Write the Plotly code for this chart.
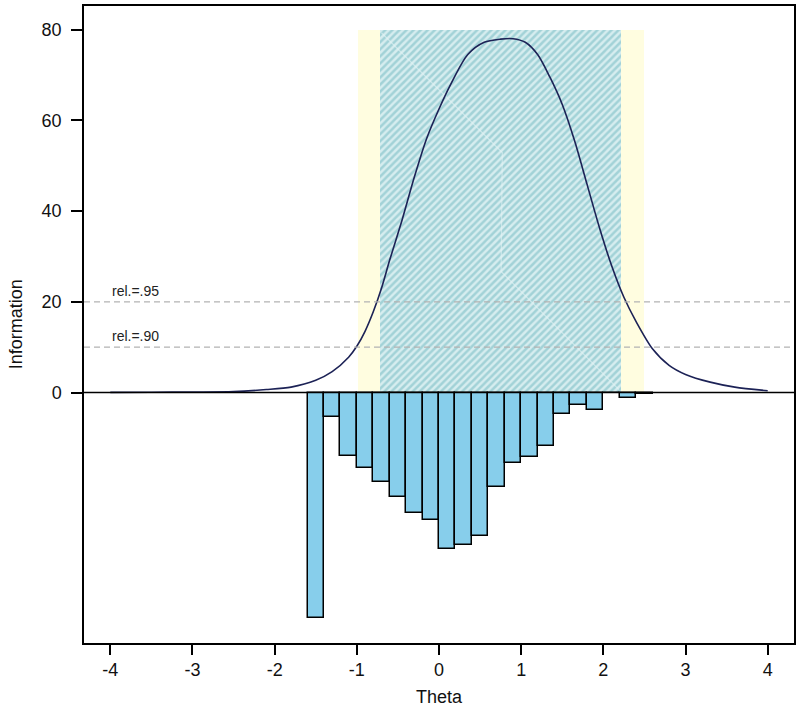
import plotly.graph_objects as go

# ---- data ----
theta = [-4.0, -3.5, -3.0, -2.5, -2.1, -1.8, -1.5, -1.3, -1.1, -1.0, -0.9, -0.8, -0.7, -0.6,
         -0.45, -0.3, -0.15, 0.0, 0.15, 0.35, 0.55, 0.75, 0.9, 1.05, 1.2, 1.35, 1.5, 1.65,
         1.8, 1.95, 2.1, 2.25, 2.4, 2.6, 2.8, 3.0, 3.3, 3.6, 4.0]
information = [0.03, 0.06, 0.12, 0.22, 0.66, 1.2, 2.7, 4.6, 7.8, 10.2, 13.5, 17.8, 23.0, 29.2,
               38.0, 47.5, 56.0, 62.5, 68.2, 74.5, 77.2, 77.9, 78.0, 77.2, 74.5, 69.5, 63.5, 55.5,
               46.0, 36.5, 28.0, 21.0, 15.6, 9.6, 6.0, 4.0, 2.3, 1.2, 0.4]

bin_left = [-1.6, -1.4, -1.2, -1.0, -0.8, -0.6, -0.4, -0.2, 0.0, 0.2, 0.4, 0.6, 0.8, 1.0,
            1.2, 1.4, 1.6, 1.8, 2.0, 2.2, 2.4]
bin_height = [-49.6, -5.4, -13.9, -16.7, -19.8, -23.1, -26.5, -28.0, -34.5, -33.6, -31.7, -20.9,
              -15.6, -14.1, -11.8, -4.7, -2.8, -3.9, 0.0, -1.2, -0.4]
bin_width = 0.2

band90 = [-0.99, 2.49]     # rel. >= .90 range
band95 = [-0.714, 2.218]   # rel. >= .95 range
band_top = 80

guide_x = [-0.70, 0.77, 0.756, 2.19]
guide_y = [79.3, 52.9, 26.7, 0.66]

rel_levels = [20, 10]
rel_labels = ["rel.=.95", "rel.=.90"]

xticks = [-4, -3, -2, -1, 0, 1, 2, 3, 4]
xtick_text = ["-4", "-3", "-2", "-1", "0", "1", "2", "3", "4"]
yticks = [0, 20, 40, 60, 80]
ytick_text = ["0", "20", "40", "60", "80"]

FONT = "Liberation Sans, Arial, sans-serif"

fig = go.Figure()

# yellow band (rel .90)
fig.add_trace(go.Bar(
    x=[(band90[0] + band90[1]) / 2], y=[band_top], base=0, width=[band90[1] - band90[0]],
    marker=dict(color="#fffde0", line=dict(width=0)), hoverinfo="skip", showlegend=False))

# hatched teal band (rel .95)
fig.add_trace(go.Bar(
    x=[(band95[0] + band95[1]) / 2], y=[band_top], base=0, width=[band95[1] - band95[0]],
    marker=dict(color="#d3ecee", line=dict(width=0),
                pattern=dict(shape="/", bgcolor="#d6edef", fgcolor="#a2d2d7",
                             size=5, solidity=0.5, fillmode="replace")),
    hoverinfo="skip", showlegend=False))

# faint guide line
fig.add_trace(go.Scatter(x=guide_x, y=guide_y, mode="lines",
                         line=dict(color="rgba(228,244,245,0.6)", width=1.2),
                         hoverinfo="skip", showlegend=False))

# histogram bars (below zero)
fig.add_trace(go.Bar(
    x=[b + bin_width / 2 for b in bin_left], y=bin_height, base=0,
    width=[bin_width] * len(bin_left),
    marker=dict(color="#87ceeb", line=dict(color="black", width=1.5)),
    showlegend=False))

# information curve
fig.add_trace(go.Scatter(x=theta, y=information, mode="lines",
                         line=dict(color="#1c2256", width=1.6, shape="spline", smoothing=0.8),
                         showlegend=False))

shapes = []
for lv in rel_levels:
    shapes.append(dict(type="line", xref="paper", x0=0, x1=1, yref="y", y0=lv, y1=lv,
                       line=dict(color="#b3b3b3", width=1.2, dash="6px,4px"), layer="above"))
shapes.append(dict(type="line", xref="paper", x0=0, x1=1, yref="y", y0=0, y1=0,
                   line=dict(color="black", width=1.5), layer="above"))

annotations = []
for lv, lab in zip(rel_levels, rel_labels):
    annotations.append(dict(x=-4.0, y=lv, xref="x", yref="y", text=lab, showarrow=False,
                            xanchor="left", yanchor="bottom", yshift=1,
                            font=dict(family=FONT, size=14, color="#222222")))
annotations.append(dict(x=0.5, y=-0.085, xref="paper", yref="paper", text="Theta",
                        showarrow=False, xanchor="center", yanchor="middle",
                        font=dict(family=FONT, size=18, color="#111111")))
annotations.append(dict(x=-0.096, y=0.5, xref="paper", yref="paper", text="Information",
                        showarrow=False, xanchor="center", yanchor="middle", textangle=-90,
                        font=dict(family=FONT, size=18, color="#111111")))

fig.update_layout(
    width=800, height=721,
    margin=dict(l=84, r=6, t=6, b=78, autoexpand=False),
    paper_bgcolor="white", plot_bgcolor="white",
    barmode="overlay", bargap=0,
    shapes=shapes, annotations=annotations,
    font=dict(family=FONT, size=18, color="#111111"),
    xaxis=dict(range=[-4.32, 4.32], tickvals=xticks, ticktext=xtick_text, ticks="outside",
               ticklen=10, tickwidth=1.5, tickcolor="black", showline=True, linecolor="black",
               linewidth=1.5, mirror=True, showgrid=False, zeroline=False, automargin=False,
               tickfont=dict(size=18)),
    yaxis=dict(range=[-55.2, 85.2], tickvals=yticks, ticktext=ytick_text, ticks="outside",
               ticklen=11, tickwidth=1.5, tickcolor="black", showline=True, linecolor="black",
               linewidth=1.5, mirror=True, showgrid=False, zeroline=False, automargin=False,
               tickfont=dict(size=18), ticklabelstandoff=6),
)

fig.write_html("out.html", config={"displayModeBar": False},
               post_script="document.body.style.margin='0px';document.body.style.overflow='hidden';")
